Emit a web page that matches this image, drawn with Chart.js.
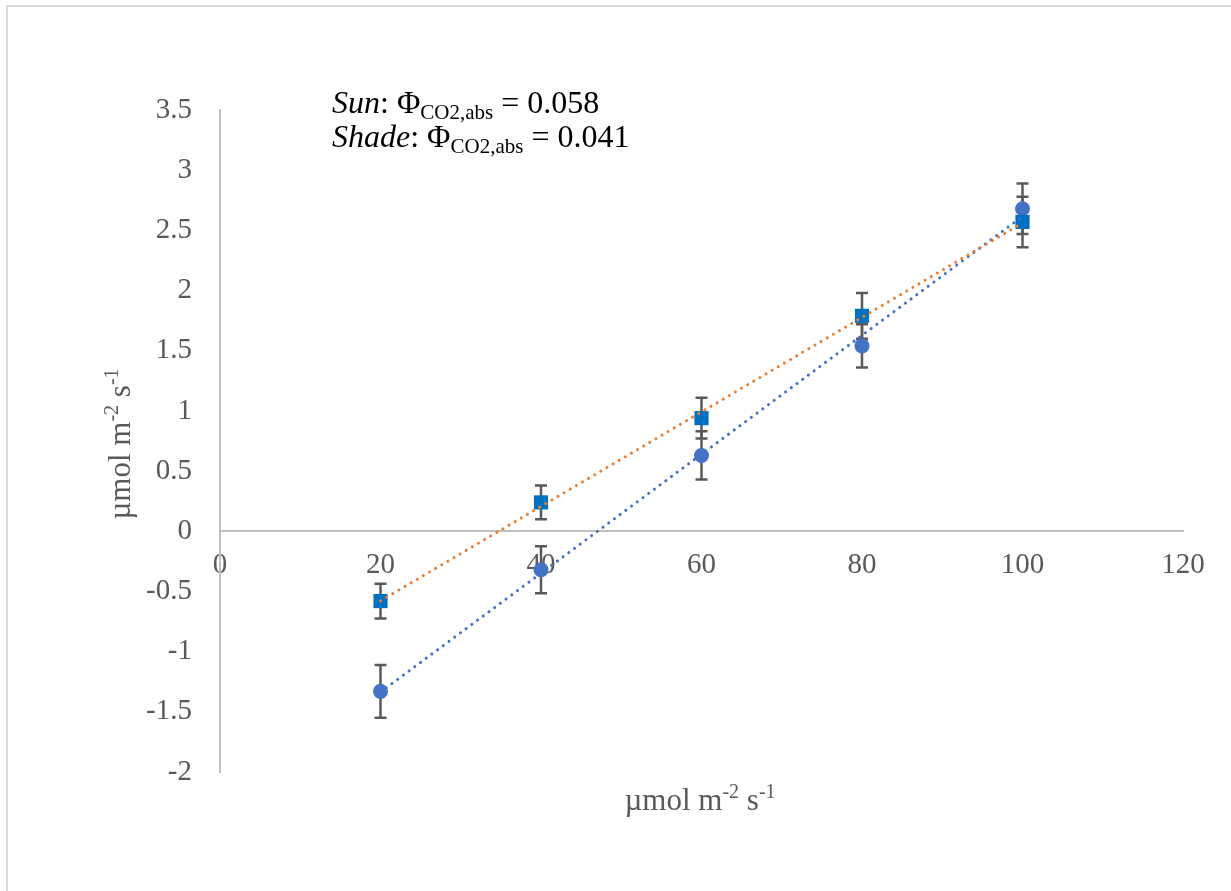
<!DOCTYPE html>
<html>
<head>
<meta charset="utf-8">
<script src="https://cdn.jsdelivr.net/npm/chart.js@4.4.0/dist/chart.umd.min.js"></script>
<style>
html, body { margin: 0; padding: 0; background: #fff; }
#wrap { position: relative; width: 1231px; height: 891px; overflow: hidden; }
#frame { position: absolute; left: 6px; top: 5px; width: 1240px; height: 900px; border: 2px solid #d9d9d9; box-sizing: border-box; }
#myChart { position: absolute; left: 0; top: 0; }
</style>
</head>
<body>
<div id="wrap">
  <div id="frame"></div>
  <canvas id="myChart" width="1231" height="891"></canvas>
</div>
<script>
// light levels (x) and net CO2 values
var lightLevels = [20, 40, 60, 80, 100];
var sunValues = [-0.58, 0.24, 0.94, 1.79, 2.57];
var sunErrors = [0.145, 0.14, 0.17, 0.19, 0.21];
var shadeValues = [-1.33, -0.32, 0.63, 1.54, 2.68];
var shadeErrors = [0.22, 0.195, 0.2, 0.18, 0.21];
var xTickValues = [0, 20, 40, 60, 80, 100, 120];
var yTickValues = [-2, -1.5, -1, -0.5, 0, 0.5, 1, 1.5, 2, 2.5, 3, 3.5];

var serif = "'Liberation Serif', 'Times New Roman', serif";
var tickColor = '#595959';

function points(xs, ys) {
    return xs.map(function (x, i) { return { x: x, y: ys[i] }; });
}

// linear fit of a series, drawn from first to last x
function trend(xs, ys) {
    var n = xs.length, mx = 0, my = 0;
    xs.forEach(function (x, i) { mx += x / n; my += ys[i] / n; });
    var sxy = 0, sxx = 0;
    xs.forEach(function (x, i) { sxy += (x - mx) * (ys[i] - my); sxx += (x - mx) * (x - mx); });
    var b = sxy / sxx, a = my - b * mx;
    var x0 = xs[0], x1 = xs[n - 1];
    return [{ x: x0, y: a + b * x0 }, { x: x1, y: a + b * x1 }];
}

// draws a list of text runs one after another
function drawRuns(ctx, runs, x, y, align) {
    var total = 0;
    runs.forEach(function (r) { ctx.font = r.font; total += ctx.measureText(r.text).width; });
    var cx = align === 'center' ? x - total / 2 : x;
    ctx.textAlign = 'left';
    ctx.textBaseline = 'alphabetic';
    runs.forEach(function (r) {
        ctx.font = r.font;
        ctx.fillText(r.text, cx, y + (r.dy || 0));
        cx += ctx.measureText(r.text).width;
    });
}

var titleFont = '31px ' + serif;
var titleSup = '20px ' + serif;
var unitRuns = [
    { text: '\u00b5mol m', font: titleFont },
    { text: '-2', font: titleSup, dy: -12 },
    { text: ' s', font: titleFont },
    { text: '-1', font: titleSup, dy: -12 }
];

var noteFont = '32px ' + serif;
var noteItalic = 'italic 32px ' + serif;
var noteSub = '21px ' + serif;

var errorBars = {
    id: 'errorBars',
    beforeDatasetsDraw: function (chart) {
        var ctx = chart.ctx, xs = chart.scales.x, ys = chart.scales.y;
        ctx.save();
        ctx.strokeStyle = '#595959';
        ctx.lineWidth = 2.5;
        [[shadeValues, shadeErrors], [sunValues, sunErrors]].forEach(function (s) {
            lightLevels.forEach(function (lx, i) {
                var px = xs.getPixelForValue(lx);
                var top = ys.getPixelForValue(s[0][i] + s[1][i]);
                var bot = ys.getPixelForValue(s[0][i] - s[1][i]);
                ctx.beginPath();
                ctx.moveTo(px, top); ctx.lineTo(px, bot);
                ctx.moveTo(px - 6, top); ctx.lineTo(px + 6, top);
                ctx.moveTo(px - 6, bot); ctx.lineTo(px + 6, bot);
                ctx.stroke();
            });
        });
        ctx.restore();
    }
};

var labelsPlugin = {
    id: 'labelsPlugin',
    afterDraw: function (chart) {
        var ctx = chart.ctx;
        ctx.save();
        // axis titles
        ctx.fillStyle = tickColor;
        drawRuns(ctx, unitRuns, 700, 810, 'center');
        ctx.save();
        ctx.translate(130, 444);
        ctx.rotate(-Math.PI / 2);
        drawRuns(ctx, unitRuns, 0, 0, 'center');
        ctx.restore();
        // quantum yield note
        ctx.fillStyle = '#000';
        drawRuns(ctx, [
            { text: 'Sun', font: noteItalic },
            { text: ': \u03a6', font: noteFont },
            { text: 'CO2,abs', font: noteSub, dy: 6 },
            { text: ' = 0.058', font: noteFont }
        ], 332, 113, 'left');
        drawRuns(ctx, [
            { text: 'Shade', font: noteItalic },
            { text: ': \u03a6', font: noteFont },
            { text: 'CO2,abs', font: noteSub, dy: 6 },
            { text: ' = 0.041', font: noteFont }
        ], 332, 147, 'left');
        ctx.restore();
    }
};

var ctx = document.getElementById('myChart').getContext('2d');
var myChart = new Chart(ctx, {
    type: 'scatter',
    data: {
        datasets: [{
            label: 'Sun trend',
            type: 'line',
            data: trend(lightLevels, sunValues),
            borderColor: '#ED7D31',
            borderWidth: 3,
            borderDash: [0.1, 7],
            borderCapStyle: 'round',
            pointRadius: 0,
            fill: false,
            order: 0
        }, {
            label: 'Shade trend',
            type: 'line',
            data: trend(lightLevels, shadeValues),
            borderColor: '#4472C4',
            borderWidth: 3,
            borderDash: [0.1, 7],
            borderCapStyle: 'round',
            pointRadius: 0,
            fill: false,
            order: 1
        }, {
            label: 'Sun',
            data: points(lightLevels, sunValues),
            pointStyle: 'rect',
            pointRadius: 10,
            backgroundColor: '#0070C0',
            borderColor: '#0070C0',
            borderWidth: 0,
            order: 2
        }, {
            label: 'Shade',
            data: points(lightLevels, shadeValues),
            pointStyle: 'circle',
            pointRadius: 7.5,
            backgroundColor: '#4472C4',
            borderColor: '#4472C4',
            borderWidth: 0,
            order: 3
        }]
    },
    options: {
        responsive: false,
        animation: false,
        layout: { padding: { left: 0, top: 110, right: 48, bottom: 119 } },
        plugins: {
            legend: { display: false },
            tooltip: { enabled: false }
        },
        scales: {
            x: {
                type: 'linear',
                position: { y: 0 },
                min: 0,
                max: 120,
                afterFit: function (s) { s.height = 0; },
                afterBuildTicks: function (s) { s.ticks = xTickValues.map(function (v) { return { value: v }; }); },
                grid: { display: false, drawTicks: false },
                border: { display: true, color: '#bfbfbf', width: 2 },
                ticks: {
                    padding: 17,
                    color: tickColor,
                    font: { family: serif, size: 29 },
                    callback: function (v) { return String(v); }
                }
            },
            y: {
                type: 'linear',
                min: -2,
                max: 3.5,
                afterFit: function (s) { s.width = 220; },
                afterBuildTicks: function (s) { s.ticks = yTickValues.map(function (v) { return { value: v }; }); },
                grid: { display: false, drawTicks: false },
                border: { display: true, color: '#bfbfbf', width: 2 },
                ticks: {
                    padding: 28,
                    color: tickColor,
                    font: { family: serif, size: 29 },
                    callback: function (v) { return String(v); }
                }
            }
        }
    },
    plugins: [errorBars, labelsPlugin]
});
</script>
</body>
</html>
